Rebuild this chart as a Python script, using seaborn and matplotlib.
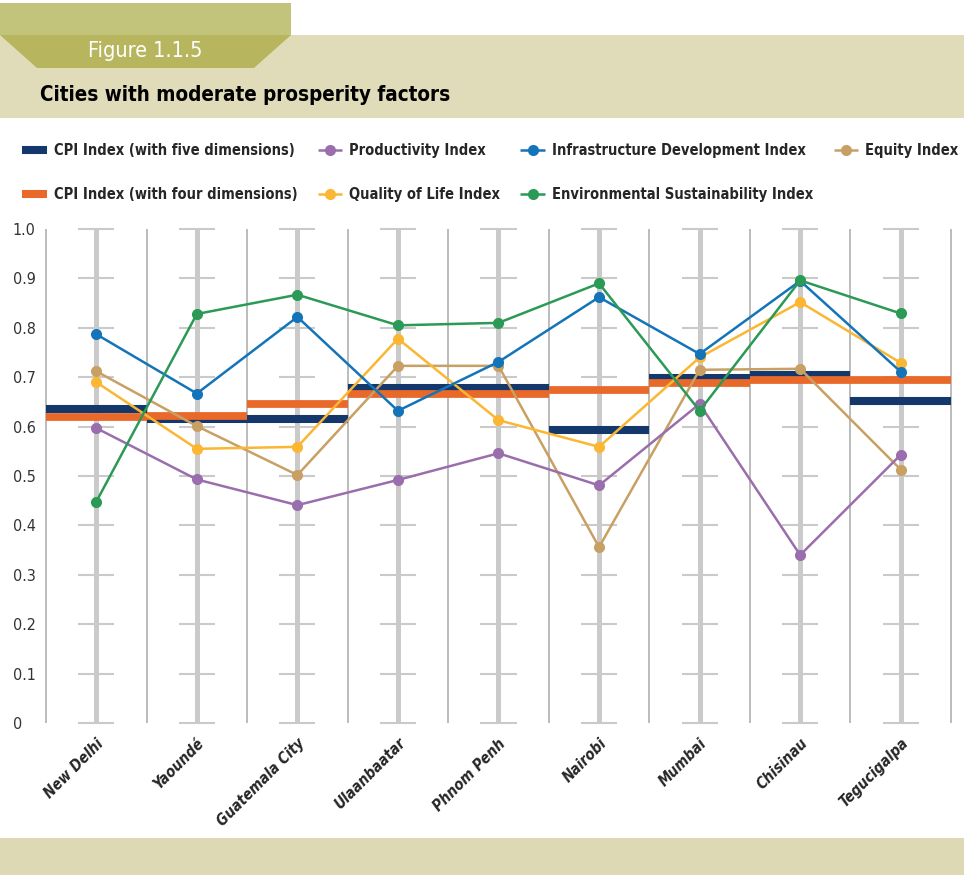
import matplotlib
matplotlib.use("Agg")
import matplotlib.pyplot as plt
import matplotlib.transforms as mtransforms
from matplotlib.lines import Line2D
from matplotlib.patches import Polygon, Rectangle
import seaborn as sns
import pandas as pd
import numpy as np

# data
cities = ["New Delhi", "Yaoundé", "Guatemala City", "Ulaanbaatar", "Phnom Penh",
          "Nairobi", "Mumbai", "Chisinau", "Tegucigalpa"]
cpi_five = [0.636, 0.615, 0.615, 0.678, 0.679, 0.594, 0.698, 0.704, 0.651]
cpi_four = [0.619, 0.622, 0.646, 0.666, 0.667, 0.674, 0.688, 0.694, 0.694]
productivity = [0.597, 0.493, 0.441, 0.492, 0.546, 0.481, 0.646, 0.340, 0.543]
quality_of_life = [0.690, 0.555, 0.559, 0.778, 0.613, 0.559, 0.740, 0.852, 0.729]
infrastructure = [0.787, 0.667, 0.822, 0.632, 0.731, 0.862, 0.747, 0.895, 0.711]
environment = [0.448, 0.828, 0.867, 0.805, 0.810, 0.890, 0.632, 0.896, 0.829]
equity = [0.712, 0.601, 0.502, 0.723, 0.723, 0.356, 0.715, 0.717, 0.513]
y_ticks = [0, 0.1, 0.2, 0.3, 0.4, 0.5, 0.6, 0.7, 0.8, 0.9, 1.0]
y_tick_labels = ["0", "0.1", "0.2", "0.3", "0.4", "0.5", "0.6", "0.7", "0.8", "0.9", "1.0"]

series = {
    "Equity Index": equity,
    "Quality of Life Index": quality_of_life,
    "Infrastructure Development Index": infrastructure,
    "Productivity Index": productivity,
    "Environmental Sustainability Index": environment,
}
colors = {
    "CPI Index (with five dimensions)": "#14386c",
    "CPI Index (with four dimensions)": "#e9692b",
    "Productivity Index": "#9a6ead",
    "Quality of Life Index": "#fbb633",
    "Infrastructure Development Index": "#1474b9",
    "Environmental Sustainability Index": "#2b9a56",
    "Equity Index": "#c9a064",
}

FONT = ["DejaVu Sans"]
W, H = 964, 875


def fx(px):
    return px / W


def fy(py):
    return 1 - py / H


df = pd.DataFrame(
    [(c, name, v) for name, vals in series.items() for c, v in zip(cities, vals)],
    columns=["city", "index", "value"],
)

sns.set_style("white")
plt.rcParams["font.family"] = FONT
plt.rcParams["font.stretch"] = "condensed"

fig = plt.figure(figsize=(W / 100, H / 100), dpi=100)

# header band
fig.add_artist(Rectangle((0, fy(118)), 1, fy(35) - fy(118), transform=fig.transFigure,
                         facecolor="#e0dcb9", edgecolor="none"))
fig.add_artist(Rectangle((0, fy(35)), fx(291), fy(3) - fy(35), transform=fig.transFigure,
                         facecolor="#c3c47b", edgecolor="none"))
fig.add_artist(Polygon([(0, fy(35)), (fx(291), fy(35)), (fx(254), fy(68)), (fx(37), fy(68))],
                       closed=True, transform=fig.transFigure,
                       facecolor="#b7b55d", edgecolor="none"))
fig.text(fx(88), fy(51), "Figure 1.1.5", color="white", fontsize=15.5,
         ha="left", va="center")
fig.text(fx(40), fy(95), "Cities with moderate prosperity factors", color="black",
         fontsize=14.8, fontweight="bold", ha="left", va="center")
# footer band
fig.add_artist(Rectangle((0, 0), 1, fy(838), transform=fig.transFigure,
                         facecolor="#ddd9b5", edgecolor="none"))

ax = fig.add_axes([fx(46), fy(723), fx(951) - fx(46), (723 - 229) / H])

n = len(cities)
pos = np.arange(n)

# background structure: separators, centre bars and tick stubs
ax.vlines(np.arange(n + 1) - 0.5, 0, 1, color="#a9a9a9", lw=1.1, zorder=1, clip_on=False)
ax.vlines(pos, 0, 1, color="#cacaca", lw=3.6, zorder=1, clip_on=False)
for p in pos:
    ax.hlines(y_ticks, p - 0.18, p + 0.18, color="#cacaca", lw=1.5, zorder=1, clip_on=False)

# CPI bars
ax.hlines(cpi_five, pos - 0.5, pos + 0.5, color=colors["CPI Index (with five dimensions)"],
          lw=5.8, zorder=2)
ax.hlines(cpi_four, pos - 0.5, pos + 0.5, color=colors["CPI Index (with four dimensions)"],
          lw=5.6, zorder=2.5)

sns.pointplot(data=df, x="city", y="value", hue="index", order=cities,
              hue_order=list(series.keys()), palette=colors, markers="o",
              dodge=False, errorbar=None, legend=False, ax=ax,
              markersize=8, linewidth=1.8, markeredgewidth=0, zorder=3)

ax.set_xlim(-0.5, n - 0.5)
ax.set_ylim(0, 1)
ax.set_xlabel("")
ax.set_ylabel("")
for s in ax.spines.values():
    s.set_visible(False)
ax.grid(False)

ax.set_yticks(y_ticks)
ax.set_yticklabels(y_tick_labels, fontsize=11.5, color="#333333", ha="left")
ax.tick_params(axis="y", length=0, pad=24)
ax.set_xticks(pos)
ax.set_xticklabels(cities, fontsize=10.8, fontweight="bold", fontstyle="italic",
                   rotation=45, ha="right", va="center", rotation_mode="anchor")
ax.tick_params(axis="x", length=0, pad=13)
shift = mtransforms.ScaledTranslation(5 / 100, 0, fig.dpi_scale_trans)
for lab in ax.get_xticklabels():
    lab.set_transform(lab.get_transform() + shift)

# legend
order = ["CPI Index (with five dimensions)", "CPI Index (with four dimensions)",
         "Productivity Index", "Quality of Life Index",
         "Infrastructure Development Index", "Environmental Sustainability Index",
         "Equity Index"]
handles = []
for name in order:
    if name.startswith("CPI"):
        handles.append(Line2D([], [], color=colors[name], lw=5.8, solid_capstyle="butt"))
    else:
        handles.append(Line2D([], [], color=colors[name], lw=1.8, marker="o",
                              markersize=8, markeredgewidth=0, solid_capstyle="butt"))
fig.legend(handles, order, loc="upper left", bbox_to_anchor=(fx(22), fy(143)),
           ncol=4, frameon=False,
           prop=dict(family=FONT, weight="bold", size=10.5, stretch="condensed"),
           handlelength=1.7, handletextpad=0.48, columnspacing=1.38,
           labelspacing=1.98, borderpad=0, borderaxespad=0)

fig.savefig("out.png", dpi=100, facecolor="white")
